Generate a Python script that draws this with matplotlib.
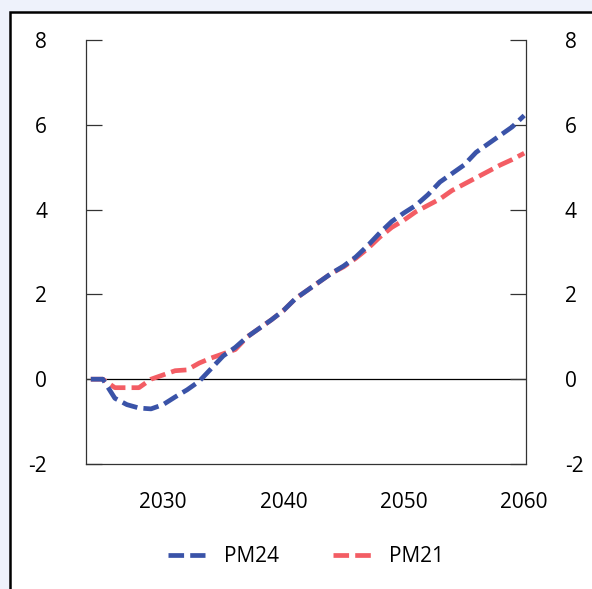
import matplotlib
matplotlib.use("Agg")
import matplotlib.pyplot as plt
from matplotlib.patches import Rectangle

years = list(range(2024, 2061))

pm24 = [0.0, 0.0, -0.45, -0.6, -0.68, -0.7, -0.6, -0.42, -0.25, -0.05,
        0.25, 0.55, 0.75, 1.0, 1.2, 1.4, 1.62, 1.9, 2.1, 2.3,
        2.5, 2.67, 2.88, 3.15, 3.45, 3.72, 3.92, 4.1, 4.35, 4.65,
        4.85, 5.05, 5.35, 5.55, 5.75, 5.95, 6.22]

pm21 = [0.0, 0.0, -0.2, -0.2, -0.2, 0.0, 0.1, 0.2, 0.22, 0.38,
        0.5, 0.6, 0.7, 1.0, 1.2, 1.4, 1.62, 1.9, 2.1, 2.3,
        2.5, 2.65, 2.85, 3.08, 3.35, 3.58, 3.75, 3.95, 4.1, 4.25,
        4.45, 4.6, 4.75, 4.9, 5.05, 5.18, 5.33]

y_ticks = [-2, 0, 2, 4, 6, 8]
x_ticks = [2030, 2040, 2050, 2060]

plt.rcParams["font.family"] = ["Open Sans", "DejaVu Sans"]
plt.rcParams["axes.unicode_minus"] = False

fig = plt.figure(figsize=(5.92, 5.89), dpi=100)
fig.patch.set_facecolor("#eef2fb")

# white panel with black frame, cut off at right/bottom edges
fig.patches.append(Rectangle((10 / 592, -0.1), 1.2, 1 - 12 / 589 + 0.1,
                             transform=fig.transFigure, facecolor="white",
                             edgecolor="black", linewidth=1.8, zorder=-5))

ax = fig.add_axes([86 / 592, 125 / 589, 440 / 592, 424 / 589])
ax.set_facecolor("white")

ax.axhline(0, color="black", linewidth=0.9, zorder=1)

ax.plot(years, pm24, color="#3a53a8", linewidth=3.4, dashes=(3.3, 1.3),
        label="PM24", zorder=3)
ax.plot(years, pm21, color="#f35d64", linewidth=3.4, dashes=(3.3, 1.3),
        label="PM21", zorder=2)

ax.set_xlim(2023.6, 2060.15)
ax.set_ylim(-2, 8)
ax.set_xticks(x_ticks)
ax.set_yticks(y_ticks)

for side in ["left", "right", "bottom"]:
    ax.spines[side].set_color("#333333")
    ax.spines[side].set_linewidth(0.9)
ax.spines["top"].set_visible(False)

ax.tick_params(axis="y", direction="in", length=11.5, width=0.9,
               color="#333333", left=True, right=True,
               labelleft=True, labelright=True, pad=28, labelsize=15)
ax.tick_params(axis="x", length=0, pad=20, labelsize=15)

ax.legend(loc="upper center", bbox_to_anchor=(0.5, -0.15), ncol=2,
          frameon=False, fontsize=15, handlelength=1.8,
          columnspacing=2.6, handletextpad=0.9)

fig.savefig("out.png", dpi=100, facecolor=fig.get_facecolor())
